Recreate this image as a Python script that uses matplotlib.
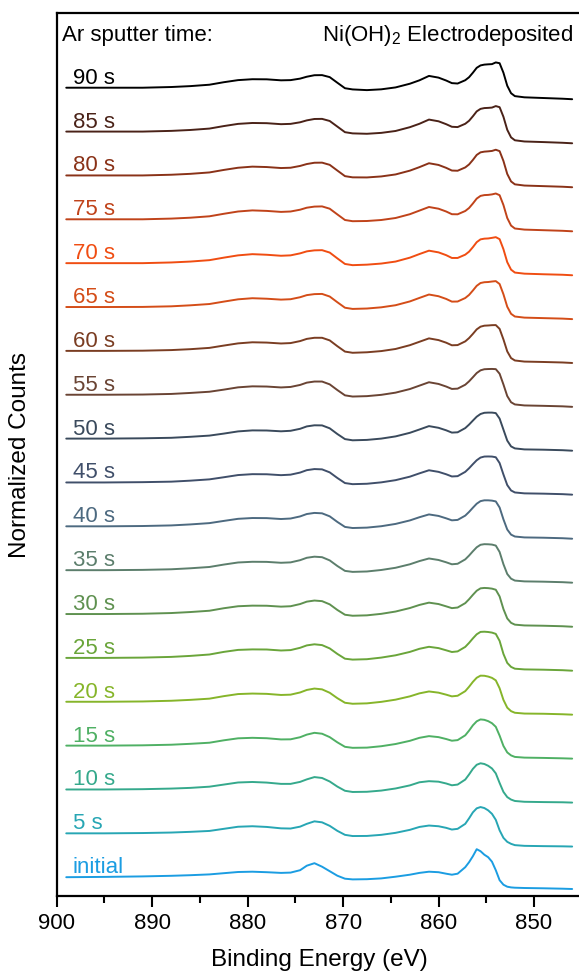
import matplotlib
matplotlib.use("Agg")
import matplotlib.pyplot as plt
from matplotlib.ticker import MultipleLocator

plt.rcParams['font.family'] = ['Liberation Sans', 'DejaVu Sans']
plt.rcParams['mathtext.fontset'] = 'custom'
plt.rcParams['mathtext.rm'] = 'Liberation Sans'

# Binding energy nodes (eV)
energy = [899, 895, 891, 888, 886, 884, 882.5, 881, 879.5, 878, 876.5, 875.5,
          874.5, 873.8, 873, 872.2, 871.4, 870.6, 869.8, 869, 867.5, 866, 864.5, 863,
          862, 861, 860, 859.2, 858.6, 858, 857.2, 856.8, 856.4, 856, 855.6, 855.2,
          854.8, 854.4, 854, 853.6, 853.2, 852.8, 852.4, 852, 851, 849, 847, 846]

labels = ["initial", "5 s", "10 s", "15 s", "20 s", "25 s", "30 s", "35 s", "40 s",
          "45 s", "50 s", "55 s", "60 s", "65 s", "70 s", "75 s", "80 s", "85 s", "90 s"]

# normalized counts (relative to each spectrum's high-BE baseline)
s_initial = [0, 0.3, 0.8, 1.4, 2, 2.8, 4, 5.2, 5.5, 5, 4.3, 4.6,
             7, 11.5, 14, 10.5, 6, 1.5, -1.5, -2.2, -2, -1.2, 0.5, 2.5,
             4.3, 5.5, 5, 3.5, 2.5, 3.5, 10, 15, 21, 28, 26, 22.5,
             20, 15.5, 7, -3, -7.5, -9.5, -10.2, -10.5, -10.8, -11.1, -11.5, -11.8]
s_05 = [0, 0, 0.3, 0.8, 1.5, 2.4, 4.5, 6.6, 7.1, 6.4, 5, 4.8,
        6.7, 9.5, 12, 11, 7.5, 2.5, -1.5, -2.7, -2.6, -1.5, 0.5, 3.5,
        6.4, 7.8, 7.1, 5.5, 3.8, 4.5, 9.5, 15, 21, 25, 26.3, 25.3,
        23, 19.5, 13.5, 3, -4.5, -8.5, -10.5, -11.8, -12.5, -12.8, -13, -13.2]
s_10 = [0, 0, 0.3, 0.9, 1.6, 2.8, 4.9, 7, 7.5, 6.9, 5.6, 5.6,
        7.6, 10.1, 12.4, 11.5, 8, 2.9, -1.3, -2.5, -2.3, -1.1, 1, 4.1,
        7.2, 8.3, 7.8, 6, 4.2, 4.9, 9.9, 15, 20.6, 24.7, 26.2, 25.5,
        23.7, 21, 16.1, 6.5, -2.4, -7.6, -10.1, -11.5, -12.3, -12.6, -12.8, -13.1]
s_15 = [0, 0, 0.3, 0.9, 1.8, 2.9, 5.3, 7.3, 7.8, 7.4, 6.2, 6.3,
        8.4, 11, 12.8, 11.9, 8.5, 3.3, -1.2, -2.2, -2, -0.6, 1.6, 4.8,
        7.8, 9.5, 8.5, 6.6, 4.9, 5.5, 10.3, 15, 20.3, 24.3, 26.2, 25.8,
        24.5, 22.4, 18.8, 10, -0.3, -6.8, -9.8, -11.3, -12, -12.3, -12.7, -13]
s_20 = [0, 0, 0.3, 1, 1.9, 3.1, 5.6, 7.7, 8.2, 7.9, 6.8, 7.1,
        9.3, 11.8, 13.2, 12.4, 9, 3.6, -1, -2, -1.6, -0.1, 2.1, 5.4,
        8.4, 10.3, 9.1, 7.1, 5.4, 6, 10.6, 15, 19.9, 24, 26.1, 26,
        25.2, 23.9, 21.4, 13.5, 1.9, -5.9, -9.4, -11, -11.8, -12, -12.5, -12.9]
s_25 = [0, 0, 0.3, 1, 2, 3.4, 6, 8, 8.5, 8.4, 7.4, 7.8,
        10.1, 12.5, 13.6, 12.8, 9.5, 4, -0.8, -1.7, -1.3, 0.3, 2.6, 6,
        9.1, 11.1, 9.8, 7.6, 5.9, 6.5, 11, 15, 19.5, 23.6, 26, 26.2,
        25.9, 25.3, 24, 17, 4, -5, -9, -10.8, -11.5, -11.8, -12.3, -12.8]
s_30 = [0, 0, 0.3, 1, 2, 3.3, 5.8, 7.8, 8.4, 8.3, 7.4, 7.8,
        10, 12.4, 13.5, 12.9, 9.7, 4.1, -0.7, -1.7, -1.3, 0.2, 2.5, 6,
        9.1, 11.4, 10, 7.7, 5.9, 6.5, 10.9, 14.8, 19.2, 23.3, 25.7, 26.1,
        25.9, 25.4, 24.3, 17.6, 5, -4.4, -8.8, -10.6, -11.4, -11.7, -12.2, -12.7]
s_35 = [0, 0, 0.3, 0.9, 1.9, 3.2, 5.6, 7.7, 8.4, 8.3, 7.4, 7.8,
        10, 12.4, 13.5, 13, 9.8, 4.2, -0.7, -1.7, -1.3, 0.2, 2.4, 5.9,
        9.1, 11.7, 10.2, 7.9, 5.9, 6.4, 10.8, 14.6, 18.9, 22.9, 25.4, 26,
        25.9, 25.6, 24.6, 18.2, 6, -3.8, -8.5, -10.4, -11.2, -11.5, -12, -12.5]
s_40 = [0, 0, 0.3, 0.9, 1.9, 3.2, 5.4, 7.5, 8.3, 8.2, 7.3, 7.8,
        9.9, 12.3, 13.4, 13, 10, 4.4, -0.6, -1.7, -1.3, 0.1, 2.4, 5.9,
        9.1, 11.9, 10.4, 8, 6, 6.4, 10.7, 14.4, 18.6, 22.6, 25.2, 26,
        26, 25.7, 24.9, 18.8, 7, -3.2, -8.3, -10.2, -11.1, -11.4, -11.9, -12.4]
s_45 = [0, 0, 0.3, 0.8, 1.8, 3.1, 5.2, 7.4, 8.3, 8.2, 7.3, 7.8,
        9.9, 12.3, 13.4, 13.1, 10.1, 4.5, -0.6, -1.7, -1.3, 0.1, 2.3, 5.8,
        9.1, 12.2, 10.6, 8.2, 6, 6.3, 10.6, 14.2, 18.3, 22.2, 24.9, 25.9,
        26, 25.9, 25.2, 19.4, 8, -2.6, -8, -10, -10.9, -11.2, -11.7, -12.2]
s_50 = [0, 0, 0.3, 0.8, 1.8, 3, 5, 7.2, 8.2, 8.1, 7.3, 7.8,
        9.8, 12.2, 13.3, 13.2, 10.3, 4.6, -0.5, -1.7, -1.3, 0, 2.2, 5.8,
        9.1, 12.5, 10.8, 8.3, 6, 6.3, 10.5, 14, 18, 21.9, 24.6, 25.8,
        26, 26, 25.5, 20, 9, -2, -7.8, -9.8, -10.8, -11.1, -11.6, -12.1]
s_55 = [0, 0, 0.2, 0.8, 1.8, 3, 5.1, 7.4, 8.4, 8.2, 7.3, 7.8,
        9.8, 12.1, 13.2, 13.2, 10.4, 4.7, -0.6, -1.8, -1.4, -0.1, 2.1, 5.7,
        9.1, 12.5, 10.8, 8.2, 5.8, 6.1, 10, 13.4, 17.5, 21.7, 24.4, 25.5,
        25.7, 25.8, 25.6, 21, 10.3, -1.3, -7.5, -9.7, -10.7, -11.1, -11.6, -12.1]
s_60 = [0, 0, 0.2, 0.8, 1.7, 3, 5.3, 7.5, 8.6, 8.3, 7.4, 7.8,
        9.8, 12, 13.1, 13.1, 10.5, 4.7, -0.7, -1.9, -1.4, -0.2, 1.9, 5.7,
        9.1, 12.5, 10.8, 8.2, 5.6, 5.8, 9.5, 12.8, 17, 21.5, 24.2, 25.2,
        25.4, 25.7, 25.8, 22, 11.5, -0.5, -7.2, -9.6, -10.7, -11.1, -11.6, -12.1]
s_65 = [0, 0, 0.1, 0.7, 1.7, 3, 5.4, 7.7, 8.8, 8.3, 7.4, 7.8,
        9.8, 11.9, 12.9, 13.1, 10.5, 4.8, -0.7, -1.9, -1.5, -0.3, 1.8, 5.6,
        9.1, 12.5, 10.8, 8.1, 5.4, 5.5, 9, 12.1, 16.5, 21.2, 24, 24.8,
        25, 25.5, 25.9, 23, 12.8, 0.3, -6.8, -9.5, -10.6, -11.1, -11.6, -12.1]
s_70 = [0, 0, 0, 0.7, 1.6, 3, 5.5, 7.8, 9, 8.4, 7.4, 7.8,
        9.8, 11.8, 12.8, 13, 10.6, 4.8, -0.8, -2, -1.5, -0.4, 1.6, 5.5,
        9.1, 12.5, 10.8, 8, 5.2, 5.2, 8.5, 11.5, 16, 21, 23.8, 24.5,
        24.7, 25.3, 26, 24, 14, 1, -6.5, -9.4, -10.5, -11.1, -11.6, -12.1]
s_75 = [0, 0, 0, 0.7, 1.6, 3, 5.5, 7.8, 8.9, 8.4, 7.4, 7.8,
        9.6, 11.6, 12.7, 12.9, 10.6, 4.9, -0.7, -1.9, -1.7, -0.7, 1.3, 5.1,
        8.7, 12.3, 10.6, 7.8, 5.1, 5, 8.3, 11.3, 15.8, 20.7, 23.4, 24.2,
        24.4, 24.9, 25.8, 24.1, 14.3, 1.3, -6.3, -9.2, -10.3, -10.9, -11.5, -12]
s_80 = [0, 0, 0, 0.7, 1.6, 3, 5.5, 7.7, 8.8, 8.4, 7.4, 7.7,
        9.5, 11.4, 12.7, 12.8, 10.6, 4.9, -0.7, -1.9, -2, -1, 1, 4.8,
        8.3, 12.2, 10.5, 7.6, 4.9, 4.7, 8, 11, 15.5, 20.5, 23.1, 23.8,
        24.1, 24.5, 25.7, 24.3, 14.5, 1.5, -6, -8.9, -10.1, -10.7, -11.3, -11.8]
s_85 = [0, 0, 0, 0.7, 1.6, 3, 5.5, 7.7, 8.6, 8.4, 7.4, 7.7,
        9.3, 11.2, 12.6, 12.7, 10.6, 5, -0.6, -1.8, -2.2, -1.3, 0.6, 4.4,
        7.8, 12, 10.3, 7.4, 4.8, 4.5, 7.8, 10.8, 15.3, 20.2, 22.7, 23.5,
        23.7, 24, 25.5, 24.4, 14.8, 1.8, -5.8, -8.7, -9.9, -10.5, -11.2, -11.7]
s_90 = [0, 0, 0, 0.7, 1.6, 3, 5.5, 7.6, 8.5, 8.4, 7.4, 7.6,
        9.1, 11, 12.5, 12.6, 10.6, 5, -0.5, -1.7, -2.4, -1.6, 0.3, 4,
        7.4, 11.8, 10.1, 7.2, 4.6, 4.2, 7.5, 10.5, 15, 19.9, 22.3, 23.1,
        23.4, 23.6, 25.3, 24.5, 15, 2, -5.5, -8.4, -9.6, -10.3, -11, -11.5]

spectra = [s_initial, s_05, s_10, s_15, s_20, s_25, s_30, s_35, s_40, s_45, s_50,
           s_55, s_60, s_65, s_70, s_75, s_80, s_85, s_90]

colors = ["#1b9de2", "#27a6b4", "#35a98c", "#4fb064", "#86b52a", "#6aa53a", "#5f9150",
          "#5c7e6c", "#4d6a80", "#404f6a", "#3a4a5c", "#6a4434", "#7a3d22", "#d44d18",
          "#f04d12", "#c0431a", "#8a3218", "#4a2218", "#000000"]

fig = plt.figure(figsize=(5.79, 9.74), dpi=100)
ax = fig.add_axes([56.7/579, 78/974, 525/579, 883/974])

base0 = 18.8
step = 43.86
for i, (lab, s, c) in enumerate(zip(labels, spectra, colors)):
    off = base0 + i * step
    ax.plot(energy, [v + off for v in s], color=c, lw=1.4,
            solid_joinstyle='round', solid_capstyle='round')
    ax.text(898.3, off + 4, lab, color=c, fontsize=16, ha='left', va='baseline')

ax.set_xlim(900, 845)
ax.set_ylim(0, 883)
ax.xaxis.set_major_locator(MultipleLocator(10))
ax.xaxis.set_minor_locator(MultipleLocator(5))
ax.tick_params(axis='x', which='major', direction='out', length=8, width=1.5,
               labelsize=16, pad=4)
ax.tick_params(axis='x', which='minor', direction='out', length=5, width=1.5)
ax.set_yticks([])
for sp in ['left', 'bottom', 'top']:
    ax.spines[sp].set_linewidth(1.6)
ax.spines['right'].set_visible(False)

fig.text(319/579, 8/974, "Binding Energy (eV)", fontsize=17.5,
         ha='center', va='baseline')
fig.text(20/579, 0.5333, "Normalized Counts", fontsize=17.5, rotation=90,
         ha='center', va='center')

ax.text(0.011, 0.974, "Ar sputter time:", transform=ax.transAxes, fontsize=16,
        ha='left', va='center')
ax.text(0.983, 0.974, r"Ni(OH)$_\mathregular{2}$ Electrodeposited", transform=ax.transAxes,
        fontsize=16, ha='right', va='center')

fig.savefig("out.png", dpi=100)
